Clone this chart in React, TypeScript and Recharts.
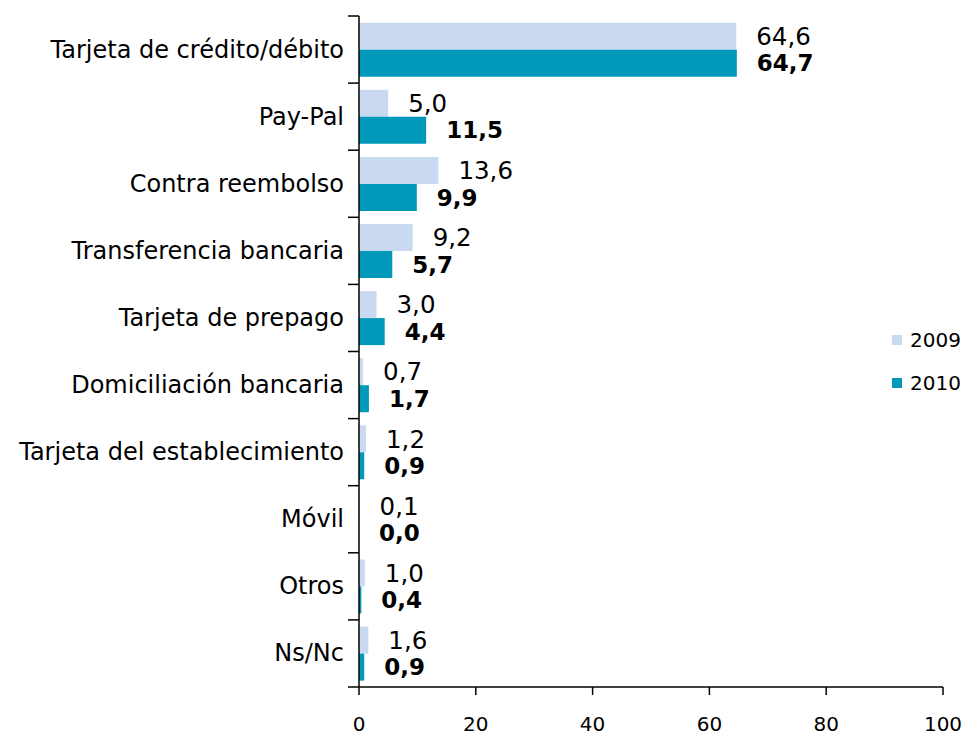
import React from "react";
import { BarChart, Bar, XAxis, YAxis, LabelList } from "recharts";

const categories = [
	"Tarjeta de crédito/débito",
	"Pay-Pal",
	"Contra reembolso",
	"Transferencia bancaria",
	"Tarjeta de prepago",
	"Domiciliación bancaria",
	"Tarjeta del establecimiento",
	"Móvil",
	"Otros",
	"Ns/Nc",
];
const values2009 = [64.6, 5.0, 13.6, 9.2, 3.0, 0.7, 1.2, 0.1, 1.0, 1.6];
const values2010 = [64.7, 11.5, 9.9, 5.7, 4.4, 1.7, 0.9, 0.0, 0.4, 0.9];
const xTicks = [0, 20, 40, 60, 80, 100];

const data = categories.map((name, i) => ({
	name,
	y2009: values2009[i],
	y2010: values2010[i],
}));

const COLOR_2009 = "#C8D9F0";
const COLOR_2010 = "#0099BA";
const FONT = "'DejaVu Sans', Verdana, sans-serif";
const PLOT_TOP = 16;
const PLOT_BOTTOM = 687;
const BAND = (PLOT_BOTTOM - PLOT_TOP) / categories.length;

const fmt = (v: any) => Number(v).toFixed(1).replace(".", ",");

const CategoryTick = (props: any) => {
	const { x, y, payload, index } = props;
	const axisX = x + 15;
	const half = BAND / 2;
	return (
		<g>
			<line
				x1={axisX - 11}
				x2={axisX}
				y1={y - half}
				y2={y - half}
				stroke='#000'
				strokeWidth={1.5}
			/>
			{index === categories.length - 1 && (
				<line
					x1={axisX - 11}
					x2={axisX}
					y1={y + half}
					y2={y + half}
					stroke='#000'
					strokeWidth={1.5}
				/>
			)}
			<text
				x={x}
				y={y}
				textAnchor='end'
				dominantBaseline='central'
				fill='#000'
				fontSize={24}
				fontFamily={FONT}>
				{payload.value}
			</text>
		</g>
	);
};

const legendItems = [
	{ label: "2009", color: COLOR_2009 },
	{ label: "2010", color: COLOR_2010 },
];

export default function App() {
	return (
		<div
			style={{
				position: "absolute",
				left: 0,
				top: 0,
				width: 967,
				height: 737,
				background: "#fff",
				fontFamily: FONT,
			}}>
			<BarChart
				width={967}
				height={737}
				data={data}
				layout='vertical'
				barCategoryGap='10%'
				barGap={0}
				margin={{ top: PLOT_TOP, right: 24, bottom: 0, left: 0 }}>
				<XAxis
					type='number'
					domain={[0, 100]}
					ticks={xTicks}
					interval={0}
					height={50}
					stroke='#000'
					strokeWidth={1.5}
					tickSize={8}
					tickMargin={22}
					tick={{ fill: "#000", fontSize: 20, fontFamily: FONT }}
				/>
				<YAxis
					type='category'
					dataKey='name'
					width={359}
					interval={0}
					stroke='#000'
					strokeWidth={1.5}
					tickLine={false}
					tickSize={0}
					tickMargin={15}
					tick={<CategoryTick />}
				/>
				<Bar
					dataKey='y2009'
					name='2009'
					fill={COLOR_2009}
					isAnimationActive={false}>
					<LabelList
						dataKey='y2009'
						position='right'
						offset={20}
						formatter={fmt}
						fill='#000'
						fontSize={24.5}
						fontFamily={FONT}
					/>
				</Bar>
				<Bar
					dataKey='y2010'
					name='2010'
					fill={COLOR_2010}
					minPointSize={0.1}
					isAnimationActive={false}>
					<LabelList
						dataKey='y2010'
						position='right'
						offset={20}
						formatter={fmt}
						fill='#000'
						fontSize={23}
						fontWeight='bold'
						fontFamily={FONT}
					/>
				</Bar>
			</BarChart>
			<div
				style={{
					position: "absolute",
					left: 892,
					top: 318,
					fontSize: 20,
					color: "#000",
				}}>
				{legendItems.map((it) => (
					<div
						key={it.label}
						style={{ display: "flex", alignItems: "center", height: 43 }}>
						<span
							style={{
								display: "inline-block",
								width: 10,
								height: 10,
								background: it.color,
								marginRight: 8,
							}}
						/>
						<span>{it.label}</span>
					</div>
				))}
			</div>
		</div>
	);
}
